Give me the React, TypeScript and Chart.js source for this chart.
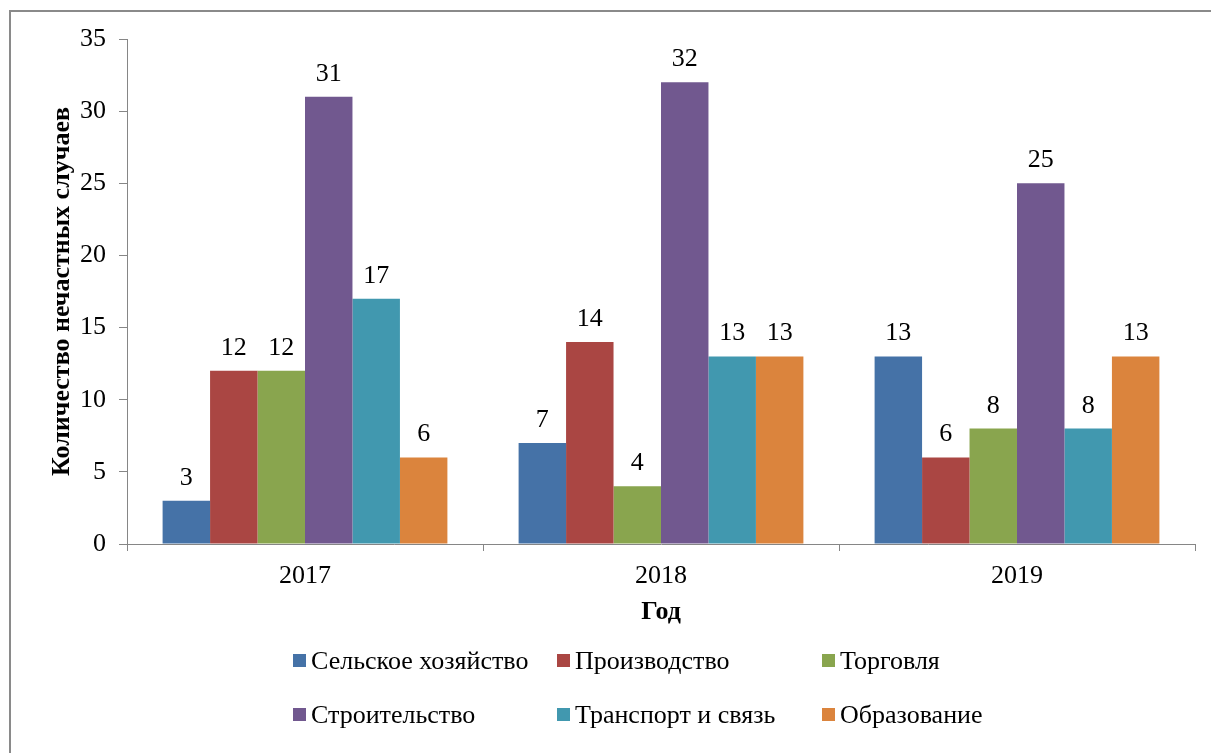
import React, { useEffect, useRef } from "react";
import { Chart, registerables } from "chart.js";

Chart.register(...registerables);

const categories = ["2017", "2018", "2019"];
const seriesNames = [
  "Сельское хозяйство",
  "Производство",
  "Торговля",
  "Строительство",
  "Транспорт и связь",
  "Образование",
];
const agriculture = [3, 7, 13];
const production = [12, 14, 6];
const trade = [12, 4, 8];
const construction = [31, 32, 25];
const transport = [17, 13, 8];
const education = [6, 13, 13];
const seriesValues = [agriculture, production, trade, construction, transport, education];
const seriesColors = ["#4572A7", "#AA4643", "#89A54E", "#71588F", "#4198AF", "#DB843D"];
const yTitle = "Количество нечастных случаев";
const xTitle = "Год";

const FONT = "'Liberation Serif', 'Times New Roman', serif";

const dataLabels = {
  id: "dataLabels",
  afterDatasetsDraw(chart: any) {
    const ctx = chart.ctx;
    ctx.save();
    ctx.font = `26px ${FONT}`;
    ctx.fillStyle = "#000";
    ctx.textAlign = "center";
    ctx.textBaseline = "alphabetic";
    chart.data.datasets.forEach((ds: any, i: number) => {
      const meta = chart.getDatasetMeta(i);
      meta.data.forEach((el: any, j: number) => {
        ctx.fillText(String(ds.data[j]), el.x, el.y - 16);
      });
    });
    ctx.restore();
  },
};

export default function App() {
  const ref = useRef<HTMLCanvasElement | null>(null);
  useEffect(() => {
    if (!ref.current) return;
    const chart = new Chart(ref.current, {
      type: "bar",
      data: {
        labels: categories,
        datasets: seriesNames.map((name, i) => ({
          label: name,
          data: seriesValues[i],
          backgroundColor: seriesColors[i],
          borderWidth: 0,
          categoryPercentage: 0.8,
          barPercentage: 1.0,
        })),
      },
      options: {
        animation: false,
        responsive: false,
        maintainAspectRatio: false,
        devicePixelRatio: 1,
        layout: { padding: { left: 47, top: 39, right: 16, bottom: 125 } },
        plugins: {
          legend: { display: false },
          tooltip: { enabled: false },
        },
        scales: {
          x: {
            grid: {
              offset: true,
              drawOnChartArea: false,
              drawTicks: true,
              tickLength: 7,
              color: "#868686",
            },
            border: { color: "#868686", width: 1 },
            ticks: { font: { family: FONT, size: 26 }, color: "#000", padding: 10 },
            title: {
              display: true,
              text: xTitle,
              font: { family: FONT, size: 26, weight: "bold" },
              color: "#000",
              padding: { top: 1, bottom: 0 },
            },
            afterFit(scale: any) {
              scale.height = 84;
            },
          },
          y: {
            min: 0,
            max: 35,
            ticks: { stepSize: 5, font: { family: FONT, size: 26 }, color: "#000", padding: 13 },
            grid: {
              drawOnChartArea: false,
              drawTicks: true,
              tickLength: 8,
              color: "#868686",
            },
            border: { color: "#868686", width: 1 },
            title: {
              display: true,
              text: yTitle,
              font: { family: FONT, size: 26, weight: "bold" },
              color: "#000",
              padding: { top: 0, bottom: 0 },
            },
            afterFit(scale: any) {
              scale.width = 80;
            },
          },
        },
      },
      plugins: [dataLabels],
    } as any);
    return () => chart.destroy();
  }, []);

  return (
    <div>
      <div
        style={{
          position: "fixed",
          left: 9,
          top: 10,
          width: 1400,
          height: 1000,
          border: "2px solid #8a8a8a",
          boxSizing: "border-box",
        }}
      />
      <canvas
        ref={ref}
        width={1211}
        height={753}
        style={{ position: "fixed", left: 0, top: 0, width: 1211, height: 753 }}
      />
      <div
        style={{
          position: "fixed",
          left: 293,
          top: 647,
          display: "grid",
          gridTemplateColumns: "264px 265px 220px",
          gridAutoRows: "54px",
          fontFamily: FONT,
          fontSize: 26,
          color: "#000",
        }}
      >
        {seriesNames.map((name, i) => (
          <div key={name} style={{ display: "flex", alignItems: "center", height: 27, whiteSpace: "nowrap" }}>
            <span
              style={{
                display: "inline-block",
                width: 13,
                height: 13,
                background: seriesColors[i],
                marginRight: 5,
                flex: "none",
              }}
            />
            <span>{name}</span>
          </div>
        ))}
      </div>
    </div>
  );
}
